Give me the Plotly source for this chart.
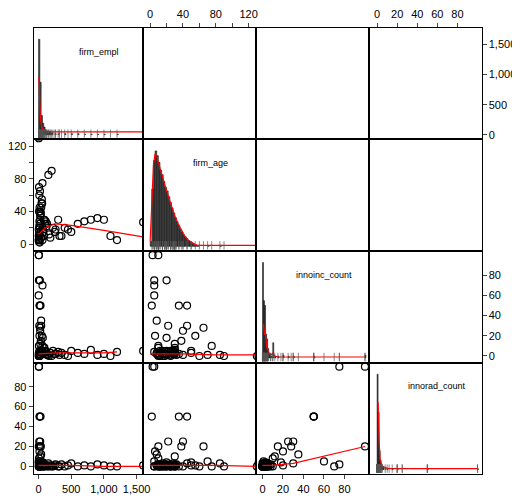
import plotly.graph_objects as go

names = ["firm_empl", "firm_age", "innoinc_count", "innorad_count"]

# observations
empl = [5,10,15,20,30,40,50,60,80,100, 8,12,25,35,45,70,90,120,150,200,
        250,300,350,400,450,500,600,700,800,900, 1000,1100,1200,1600, 3,6,18,22,28,55,
        65,75,85,110,130,160,180,220,260,320, 5,7,9,14,16,11,13,2,4,24, 6,3,40,60,20]
age = [130,8,12,20,35,45,55,75,30,25, 70,60,40,38,50,18,30,22,85,90,
       15,30,10,20,18,15,25,28,30,32, 30,10,5,27, 132,5,2,65,30,50,
       20,15,10,28,25,12,8,20,18,10, 3,40,15,6,45,22,28,5,10,35, 10,18,8,5,25]
inc = [0,2,5,75,50,30,20,10,3,5, 1,0,25,15,3,2,8,4,1,0,
       2,4,3,1,0,5,3,2,6,1, 2,0,4,5, 0,75,50,28,12,5,
       18,3,8,2,1,0,3,5,2,1, 100,1,0,20,50,30,4,60,100,2, 10,2,35,70,0]
rad = [0,1,0,2,50,3,1,0,2,1, 5,0,25,20,4,2,0,1,3,0,
       1,0,2,0,1,3,0,1,0,2, 1,0,0,1, 3,100,50,20,10,1,
       4,0,2,1,0,0,1,0,2,0, 100,0,0,15,50,25,3,5,20,0, 8,0,12,0,0]
vars_ = [empl, age, inc, rad]

# histograms (bin left edges, heights)
h_empl_x = [0,20,40,60,80,100,120,140,160,180,200,250,300,400,500,600,700,800,900,1000,1200,1600]
h_empl_y = [100,55,20,12,8,5,3,2,3,2,2,1,1,1,1,1,0.5,0.5,0.5,0.5,0.5,0.5]
h_age_x = list(range(0, 60, 2)) + [70, 85, 130]
h_age_y = [5,60,90,100,95,88,80,75,68,62,58,52,46,40,35,30,26,22,18,15,12,10,8,6,5,4,3,2,1,1,1,1,1]
h_inc_x = [0,1,2,3,4,5,6,7,8,10,12,15,20,25,30,50,100]
h_inc_y = [100,60,55,25,20,10,5,3,2,16,2,2,3,2,2,2,3]
h_rad_x = [0,1,2,3,4,5,6,8,10,15,20,50,100]
h_rad_y = [100,60,20,10,5,3,2,1,1,1,1,1,1]
hists = [(h_empl_x,h_empl_y,20),(h_age_x,h_age_y,2),(h_inc_x,h_inc_y,1),(h_rad_x,h_rad_y,1)]

# densities
d_empl_x = [0,10,20,30,50,80,120,200,400,800,1600]; d_empl_y = [60,55,30,15,8,5,4,3,3,3,3]
d_age_x = [0,2,4,6,8,10,14,18,22,26,30,34,38,42,46,50,54,58,70,130]
d_age_y = [5,50,85,97,95,88,75,64,53,42,32,24,17,11,7,4,2,1,1,1]
d_inc_x = [0,1,2,3,4,6,8,10,12,15,30,100]; d_inc_y = [35,35,25,25,12,6,3,5,2,1,1,1]
d_rad_x = [0,1,2,3,5,8,12,30,100]; d_rad_y = [70,70,30,10,4,2,1,1,1]
dens = [(d_empl_x,d_empl_y),(d_age_x,d_age_y),(d_inc_x,d_inc_y),(d_rad_x,d_rad_y)]

# smoothers for lower panels (row, col)
smooth = {
    (1,0): ([0,100,250,500,1000,1600],[12,20,25,23,17,9]),
    (2,0): ([0,300,600,1000,1200],[2,3,3,3,4]),
    (2,1): ([0,40,80,130],[2,2,1,1]),
    (3,0): ([0,500,1000,1600],[1,1,0,0]),
    (3,1): ([0,40,80,130],[1,1,1,0]),
    (3,2): ([0,10,30,60,100],[1,1,3,10,20]),
}

ranges = [[-75,1600],[-8.5,128.5],[-6.7,104],[-8,104]]
xb = [26,137,251,366,480]
yb = [15,128,241,354,467]
W, H = 520, 498

fig = go.Figure()
layout = dict(width=W, height=H, margin=dict(l=0,r=0,t=0,b=0), showlegend=False,
              plot_bgcolor="white", paper_bgcolor="white",
              font=dict(family="Liberation Sans", size=11, color="black"))
annots = []
tickinfo = {0: dict(tickvals=[0,500,1000,1500], ticktext=["0","500","1,000","1,500"]),
            1: dict(tickvals=[0,20,40,60,80,100,120], ticktext=["0","","40","","80","","120"]),
            2: dict(tickvals=[0,20,40,60,80], ticktext=["0","20","40","60","80"]),
            3: dict(tickvals=[0,20,40,60,80], ticktext=["0","20","40","60","80"])}
for r in range(4):
    for c in range(4):
        k = r*4+c+1
        xa = "x" if k == 1 else f"x{k}"
        ya = "y" if k == 1 else f"y{k}"
        xd = [xb[c]/W, xb[c+1]/W]
        yd = [1-yb[r+1]/H, 1-yb[r]/H]
        base = dict(showgrid=False, zeroline=False, showline=True, mirror=True,
                    linecolor="black", linewidth=1, ticks="", showticklabels=False)
        xax = dict(base, domain=xd, anchor=ya, range=ranges[c])
        yax = dict(base, domain=yd, anchor=xa)
        if r == c:
            hx, hy, w = hists[r]
            mx = max(hy)
            yax["range"] = [-0.05*mx, 1.12*mx]
        else:
            yax["range"] = ranges[r]
        if r == 3 and c % 2 == 0:
            xax.update(ticks="outside", ticklen=4, showticklabels=True, side="bottom", **tickinfo[c])
        if r == 0 and c % 2 == 1:
            xax.update(ticks="outside", ticklen=4, showticklabels=True, side="top", **tickinfo[c])
        if c == 0 and r % 2 == 1:
            yax.update(ticks="outside", ticklen=4, showticklabels=True, side="left", **tickinfo[r])
        if c == 3 and r % 2 == 0:
            yax.update(ticks="outside", ticklen=4, showticklabels=True, side="right", **tickinfo[r])
        if r == 0 and c == 3:
            yax["range"] = [-80, 1780]
            yax["tickvals"] = [0,500,1000,1500]; yax["ticktext"] = ["0","500","1,000","1,500"]
        layout["xaxis" if k == 1 else f"xaxis{k}"] = xax
        layout["yaxis" if k == 1 else f"yaxis{k}"] = yax

        if r == c:
            hx, hy, w = hists[r]
            fig.add_trace(go.Bar(x=[v + w/2 for v in hx], y=hy, width=w, xaxis=xa, yaxis=ya,
                                 marker=dict(color="#4d4d4d", line=dict(color="black", width=0.5))))
            dx, dy = dens[r]
            fig.add_trace(go.Scatter(x=dx, y=dy, mode="lines", xaxis=xa, yaxis=ya,
                                     line=dict(color="red", width=1.2)))
            mx = max(hy)
            fig.add_trace(go.Scatter(x=vars_[r], y=[0.01*mx]*len(vars_[r]), mode="markers",
                                     xaxis=xa, yaxis=ya,
                                     marker=dict(symbol="line-ns", size=6, line=dict(color="#555", width=0.7))))
            annots.append(dict(text=names[r], xref=f"{xa} domain", yref=f"{ya} domain",
                               x=0.6, y=0.85, showarrow=False, font=dict(size=9)))
        elif r > c:
            fig.add_trace(go.Scatter(x=vars_[c], y=vars_[r], mode="markers", xaxis=xa, yaxis=ya,
                                     marker=dict(symbol="circle-open", size=7, color="black",
                                                 line=dict(width=1.2, color="black"))))
            sx, sy = smooth[(r, c)]
            fig.add_trace(go.Scatter(x=sx, y=sy, mode="lines", xaxis=xa, yaxis=ya,
                                     line=dict(color="red", width=1.2)))
        else:
            fig.add_trace(go.Scatter(x=[None], y=[None], mode="markers", xaxis=xa, yaxis=ya,
                                     hoverinfo="skip"))
layout["annotations"] = annots
fig.update_layout(**layout)
fig.write_html("out.html")
